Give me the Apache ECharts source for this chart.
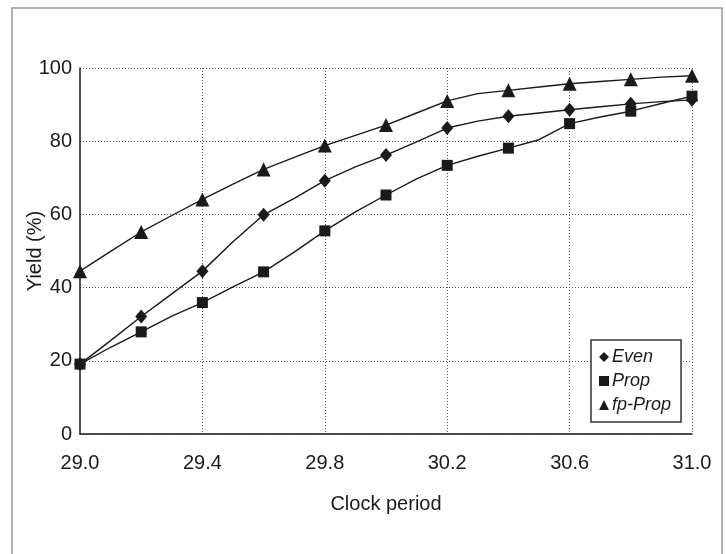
<!DOCTYPE html>
<html>
<head>
<meta charset="utf-8">
<script src="https://cdn.jsdelivr.net/npm/echarts@6/dist/echarts.min.js"></script>
<style>html,body{margin:0;padding:0;background:#fff;}#c{width:726px;height:554px;}</style>
</head>
<body>
<div id="c"></div>
<script>
// Clock period categories (every 0.1; markers drawn at every 0.2)
var categories = ['29.0','29.1','29.2','29.3','29.4','29.5','29.6','29.7','29.8','29.9','30.0',
                  '30.1','30.2','30.3','30.4','30.5','30.6','30.7','30.8','30.9','31.0'];
var evenValues  = [19.1, 25.5, 32.1, 38.3, 44.5, 52.5, 59.9, 64.4, 69.2, 73.0, 76.2,
                   79.8, 83.6, 85.5, 86.8, 87.7, 88.6, 89.4, 90.2, 90.8, 91.3];
var propValues  = [19.1, 23.7, 27.9, 32.2, 35.9, 40.2, 44.3, 49.7, 55.5, 60.7, 65.3,
                   69.7, 73.4, 75.9, 78.1, 80.4, 84.8, 86.6, 88.2, 90.3, 92.3];
var fpValues    = [44.5, 49.9, 55.2, 59.7, 64.1, 68.3, 72.3, 75.6, 78.8, 81.6, 84.4,
                   87.7, 91.0, 93.0, 93.9, 94.8, 95.7, 96.3, 96.9, 97.5, 97.9];
var seriesNames = ['Even', 'Prop', 'fp-Prop'];
var yTicks = [0, 20, 40, 60, 80, 100];

function withMarkers(vals) {
  return vals.map(function (v, i) { return i % 2 === 0 ? v : { value: v, symbol: 'none' }; });
}

var chart = echarts.init(document.getElementById('c'), null, { renderer: 'canvas' });
var font = 'Liberation Sans, Arial, Helvetica, sans-serif';
var ink = '#1a1a1a';

function mkSeries(name, vals, symbol, size) {
  return {
    name: name, type: 'line', data: withMarkers(vals),
    symbol: symbol, symbolSize: size, showAllSymbol: true,
    lineStyle: { color: ink, width: 1.4 },
    itemStyle: { color: ink, borderColor: ink, borderWidth: 0 },
    emphasis: { disabled: true }, animation: false, z: 3
  };
}

chart.setOption({
  backgroundColor: '#fff',
  animation: false,
  graphic: [{
    type: 'rect', silent: true, z: -1,
    shape: { x: 12, y: 8, width: 710, height: 560 },
    style: { fill: 'none', stroke: '#9a9a9a', lineWidth: 1.5 }
  }],
  grid: { left: 80, right: 34, top: 68, bottom: 120, containLabel: false },
  legend: {
    orient: 'vertical', left: 591, top: 340,
    width: 90,
    padding: [7, 10, 7, 8],
    itemGap: 4, itemWidth: 10, itemHeight: 10,
    borderColor: '#333', borderWidth: 1.5,
    backgroundColor: '#fff',
    selectedMode: false,
    textStyle: { fontFamily: font, fontSize: 18, fontStyle: 'italic', color: ink, lineHeight: 20, padding: [0, 0, 0, -2] },
    data: [
      { name: seriesNames[0], icon: 'diamond' },
      { name: seriesNames[1], icon: 'rect' },
      { name: seriesNames[2], icon: 'triangle' }
    ],
    itemStyle: { color: ink, borderWidth: 0 }
  },
  xAxis: {
    type: 'category', data: categories, boundaryGap: false,
    name: 'Clock period', nameLocation: 'middle', nameGap: 60, nameMoveOverlap: false,
    nameTextStyle: { fontFamily: font, fontSize: 20, color: ink },
    axisLine: { show: true, lineStyle: { color: ink, width: 1.5 } },
    axisTick: { show: false },
    axisLabel: { interval: 3, fontFamily: font, fontSize: 20, color: ink, margin: 19 },
    splitLine: { show: true, interval: function (i) { return i > 0 && i % 4 === 0; }, lineStyle: { color: '#555', type: [1, 2], width: 1 } }
  },
  yAxis: {
    type: 'value', min: yTicks[0], max: yTicks[yTicks.length - 1], interval: 20,
    name: 'Yield (%)', nameLocation: 'middle', nameGap: 35, nameMoveOverlap: false,
    nameTextStyle: { fontFamily: font, fontSize: 20, color: ink },
    axisLine: { show: true, lineStyle: { color: ink, width: 1.5 } },
    axisTick: { show: false },
    axisLabel: { fontFamily: font, fontSize: 20, color: ink, margin: 8 },
    splitLine: { show: true, lineStyle: { color: '#555', type: [1, 2], width: 1 } }
  },
  series: [
    mkSeries(seriesNames[0], evenValues, 'diamond', [12, 14]),
    mkSeries(seriesNames[1], propValues, 'rect', 11),
    mkSeries(seriesNames[2], fpValues, 'triangle', 14)
  ]
});
</script>
</body>
</html>
